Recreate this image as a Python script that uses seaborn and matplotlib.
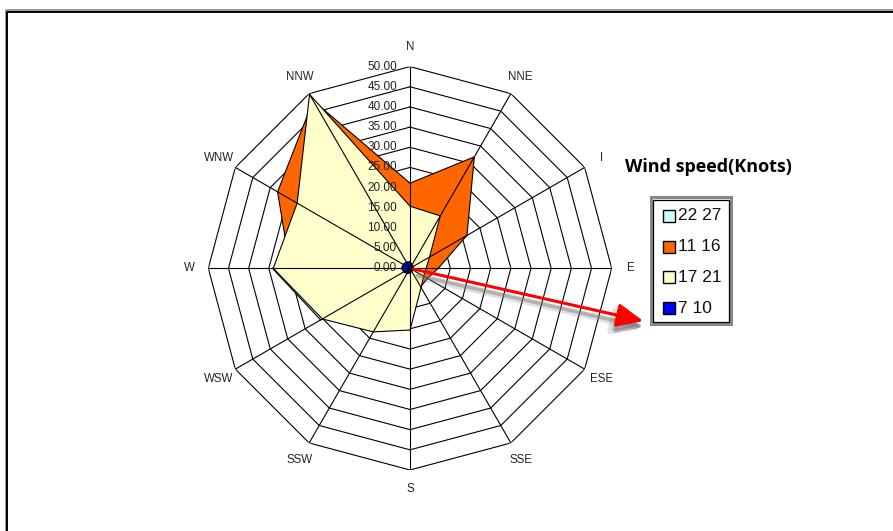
import numpy as np
import matplotlib
matplotlib.use("Agg")
import matplotlib.pyplot as plt
from matplotlib.patches import Rectangle, FancyArrowPatch
from matplotlib.lines import Line2D
from matplotlib.transforms import offset_copy
import seaborn as sns

# Wind rose: frequency per direction for each wind-speed class (knots)
directions = ["N", "NNE", "I", "E", "ESE", "SSE", "S", "SSW", "WSW", "W", "WNW", "NNW"]
speed_22_27 = [5.0, 3.0, 1.5, 1.0, 1.0, 1.0, 3.0, 9.0, 25.6, 34.1, 22.0, 30.0]
speed_11_16 = [21.1, 31.9, 16.3, 7.0, 5.0, 5.3, 8.0, 10.0, 18.0, 29.7, 37.9, 48.0]
speed_17_21 = [15.4, 15.0, 5.6, 4.0, 3.9, 5.5, 15.3, 18.2, 25.1, 33.9, 32.3, 49.8]
speed_7_10 = [1.6, 1.1, 0.9, 0.8, 0.8, 0.9, 1.2, 1.5, 1.8, 2.1, 2.0, 1.8]
series_names = ["22 27", "11 16", "17 21", "7 10"]
series_colors = ["#CCFFFF", "#FF6600", "#FFFFCC", "#0000FF"]
ring_values = [0, 5, 10, 15, 20, 25, 30, 35, 40, 45, 50]
legend_title = "Wind speed(Knots)"

W, H = 893, 531
sns.set_theme(style="white")
plt.rcParams["font.family"] = ["Liberation Sans", "DejaVu Sans"]

fig = plt.figure(figsize=(W / 100, H / 100), dpi=100)
fig.patch.set_facecolor("white")


def fx(x):
    return x / W


def fy(y):
    return 1 - y / H


# polar axes sized so the 50 ring matches the plot radius
cx, cy, R = 410, 268.3, 201.7
ax = fig.add_axes([fx(cx - R), fy(cy + R), 2 * R / W, 2 * R / H], projection="polar")
ax.set_theta_zero_location("N")
ax.set_theta_direction(-1)
ax.set_facecolor("none")
ax.grid(False)
ax.spines["polar"].set_visible(False)
ax.set_xticks([])
ax.set_yticks([])

n = len(directions)
theta = np.linspace(0, 2 * np.pi, n, endpoint=False)
theta_closed = np.append(theta, theta[0])


def closed(vals):
    return np.append(np.asarray(vals, float), vals[0])


# polygonal rings (under the filled series)
for v in ring_values[1:]:
    ax.plot(theta_closed, [v] * (n + 1), color="black", lw=0.8, zorder=1)

# filled series, drawn in legend order
all_series = [speed_22_27, speed_11_16, speed_17_21, speed_7_10]
for i, (vals, col) in enumerate(zip(all_series, series_colors)):
    z = 2 + i
    ax.fill(theta_closed, closed(vals), facecolor=col, edgecolor="none", zorder=z)
    sns.lineplot(x=theta_closed, y=closed(vals), sort=False, estimator=None,
                 color="black", lw=0.8, ax=ax, zorder=z)

# spokes on top of the fills
for t in theta:
    ax.plot([t, t], [0, ring_values[-1]], color="black", lw=0.8, zorder=7)

ax.set_ylim(0, ring_values[-1])
ax.set_xlabel("")
ax.set_ylabel("")

# value labels along the north axis
lab_tr = offset_copy(ax.transData, fig=fig, x=-13, y=0, units="dots")
for v in ring_values:
    ax.text(0, v, f"{v:.2f}", transform=lab_tr, ha="right", va="center",
            fontsize=8.5, color="#222222", zorder=9)

# direction labels
for t, name in zip(theta, directions):
    ax.text(t, 54.8, name, ha="center", va="center", fontsize=8.3,
            color="#222222", clip_on=False)

# red arrow with a soft grey shadow beneath it
arrow_style = "-|>,head_length=1.35,head_width=0.6"
for dx, dy, col, alpha, lw in [(1, 7, "#8a8a8a", 0.25, 5.0), (1, 6, "#777777", 0.45, 2.6)]:
    fig.add_artist(FancyArrowPatch((fx(414 + dx), fy(269 + dy)), (fx(645 + dx), fy(321.7 + dy)),
                                   transform=fig.transFigure, arrowstyle=arrow_style,
                                   mutation_scale=12, color=col, alpha=alpha, lw=lw, zorder=19))
fig.add_artist(FancyArrowPatch((fx(411), fy(268.5)), (fx(646), fy(321.7)),
                               transform=fig.transFigure, arrowstyle=arrow_style,
                               mutation_scale=12, color="#FF0000", lw=2.2, zorder=20))

# legend title and box
fig.text(fx(708), fy(167), legend_title, ha="center", va="center",
         fontsize=13, fontweight="bold", family=["Open Sans", "DejaVu Sans"], color="black")
fig.add_artist(Rectangle((fx(650.5), fy(324)), (731 - 650.5) / W, (324 - 197.5) / H,
                         transform=fig.transFigure, facecolor="white", edgecolor="#888888", lw=2.2))
fig.add_artist(Rectangle((fx(652.5), fy(322)), (729 - 652.5) / W, (322 - 199.5) / H,
                         transform=fig.transFigure, facecolor="none", edgecolor="black", lw=0.9))
for k, (name, col) in enumerate(zip(series_names, series_colors)):
    yy = 216 + k * 30.7
    fig.add_artist(Rectangle((fx(663), fy(yy + 6)), 12 / W, 12 / H, transform=fig.transFigure,
                             facecolor=col, edgecolor="black", lw=1.0))
    fig.text(fx(678), fy(yy), name, ha="left", va="center", fontsize=12.5, color="#111111")

# chart-area frame (continues past the right and bottom edges)
fig.add_artist(Line2D([fx(5.5), fx(5.5), fx(W + 5)], [fy(H + 5), fy(9.8), fy(9.8)],
                      transform=fig.transFigure, color="#999999", lw=1.4))
fig.add_artist(Line2D([fx(7.3), fx(7.3), fx(W + 5)], [fy(H + 5), fy(11.5), fy(11.5)],
                      transform=fig.transFigure, color="black", lw=1.4))

fig.savefig("out.png", dpi=100, facecolor="white")
